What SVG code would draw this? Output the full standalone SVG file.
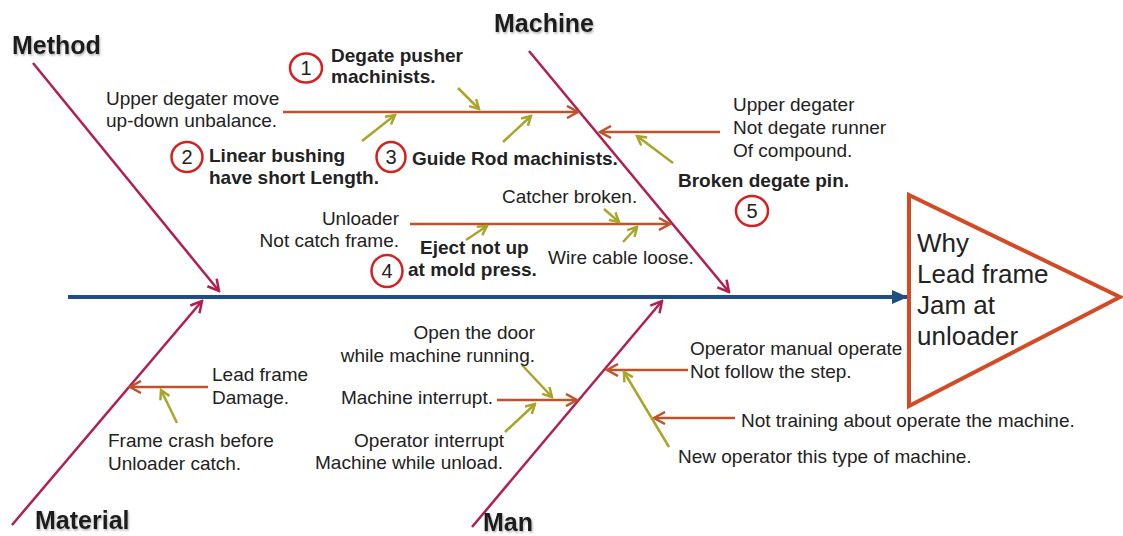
<svg xmlns="http://www.w3.org/2000/svg" width="1123" height="536" viewBox="0 0 1123 536">
<style>
text{font-family:"Liberation Sans",Arial,sans-serif;fill:#222}
.t{font-size:19px}
.b{font-size:19px;font-weight:bold}
.h{font-size:25px;font-weight:bold;fill:#1a1a1a;filter:url(#sh)}
.n{font-size:20px;text-anchor:middle}
.e{text-anchor:end}
.bone{stroke:#B01F4E;stroke-width:2.5;fill:none;marker-end:url(#mb)}
.br{stroke:#C0522B;stroke-width:2.5;fill:none;marker-end:url(#mr)}
.ol{stroke:#A9A52A;stroke-width:2.5;fill:none;marker-end:url(#mo)}
.c{fill:none;stroke:#D42020;stroke-width:2.5}
</style>
<defs>
<filter id="sh" x="-10%" y="-20%" width="130%" height="150%"><feDropShadow dx="1" dy="1.5" stdDeviation="0.8" flood-color="#777" flood-opacity="0.6"/></filter>
<marker id="mb" markerUnits="userSpaceOnUse" viewBox="0 0 14 14" refX="12" refY="7" markerWidth="14" markerHeight="14" orient="auto"><path d="M1,1 L12,7 L1,13" fill="none" stroke="#B01F4E" stroke-width="2.5"/></marker>
<marker id="mr" markerUnits="userSpaceOnUse" viewBox="0 0 14 14" refX="12" refY="7" markerWidth="14" markerHeight="14" orient="auto"><path d="M1,1 L12,7 L1,13" fill="none" stroke="#C0522B" stroke-width="2.5"/></marker>
<marker id="mo" markerUnits="userSpaceOnUse" viewBox="0 0 12 12" refX="10" refY="6" markerWidth="12" markerHeight="12" orient="auto"><path d="M1,1 L10,6 L1,11" fill="none" stroke="#A9A52A" stroke-width="2.5"/></marker>
<marker id="ms" markerUnits="userSpaceOnUse" viewBox="0 0 16 14" refX="15" refY="7" markerWidth="16" markerHeight="14" orient="auto"><path d="M0,0 L16,7 L0,14 Z" fill="#1F4E86"/></marker>
</defs>
<rect width="1123" height="536" fill="#fff"/>

<g id="connectors">
<line x1="68" y1="297" x2="907" y2="297" stroke="#1F4E86" stroke-width="4" marker-end="url(#ms)"/>
<line class="bone" x1="33" y1="63" x2="219" y2="291"/>
<line class="bone" x1="529" y1="51" x2="729" y2="292"/>
<line class="bone" x1="12" y1="525" x2="202" y2="301"/>
<line class="bone" x1="472" y1="527" x2="662" y2="301"/>
<line class="br" x1="283" y1="112" x2="578" y2="112"/>
<line class="br" x1="720" y1="132" x2="600" y2="132"/>
<line class="br" x1="410" y1="224" x2="670" y2="224"/>
<line class="br" x1="208" y1="387" x2="130" y2="387"/>
<line class="br" x1="497" y1="400" x2="577" y2="400"/>
<line class="br" x1="688" y1="370" x2="607" y2="370"/>
<line class="br" x1="735" y1="418" x2="654" y2="418"/>
<line class="ol" x1="458" y1="88" x2="479" y2="109"/>
<line class="ol" x1="362" y1="141" x2="395" y2="115"/>
<line class="ol" x1="503" y1="142" x2="531" y2="116"/>
<line class="ol" x1="673" y1="163" x2="637" y2="136"/>
<line class="ol" x1="604" y1="209" x2="619" y2="222"/>
<line class="ol" x1="623" y1="242" x2="637" y2="227"/>
<line class="ol" x1="466" y1="240" x2="487" y2="226"/>
<line class="ol" x1="177" y1="423" x2="161" y2="390"/>
<line class="ol" x1="522" y1="365" x2="552" y2="397"/>
<line class="ol" x1="505" y1="432" x2="535" y2="404"/>
<line class="ol" x1="669" y1="447" x2="624" y2="372"/>
</g>

<g id="method"><text class="h" x="12" y="54">Method</text></g>
<g id="machine"><text class="h" x="494" y="32">Machine</text></g>
<g id="material"><text class="h" x="35" y="529">Material</text></g>
<g id="man"><text class="h" x="483" y="531">Man</text></g>

<g id="effect">
<polygon points="909,195 1120,297 909,406" fill="#fff" stroke="#D44A24" stroke-width="4" stroke-linejoin="miter"/>
<text x="917" y="252" font-size="26">Why</text>
<text x="917" y="283" font-size="26">Lead frame</text>
<text x="917" y="314" font-size="26">Jam at</text>
<text x="917" y="345" font-size="26">unloader</text>
</g>

<g id="upper-degater-move"><text class="t" x="106" y="105">Upper degater move</text><text class="t" x="106" y="127">up-down unbalance.</text></g>
<g id="cause-1"><ellipse class="c" cx="306" cy="68" rx="16" ry="14.5"/><text class="n" x="306" y="75">1</text><text class="b" x="331" y="62">Degate pusher</text><text class="b" x="331" y="83">machinists.</text></g>
<g id="cause-2"><ellipse class="c" cx="187" cy="157" rx="15.5" ry="15"/><text class="n" x="187" y="164">2</text><text class="b" x="209" y="162">Linear bushing</text><text class="b" x="209" y="184">have short Length.</text></g>
<g id="cause-3"><ellipse class="c" cx="391" cy="157" rx="14.5" ry="15"/><text class="n" x="391" y="164">3</text><text class="b" x="412" y="165">Guide Rod machinists.</text></g>
<g id="upper-degater"><text class="t" x="733" y="111">Upper degater</text><text class="t" x="733" y="134">Not degate runner</text><text class="t" x="733" y="157">Of compound.</text></g>
<g id="cause-5"><text class="b" x="678" y="187">Broken degate pin.</text><ellipse class="c" cx="752" cy="211" rx="16" ry="15"/><text class="n" x="752" y="218">5</text></g>
<g id="catcher"><text class="t" x="502" y="203">Catcher broken.</text></g>
<g id="unloader"><text class="t e" x="399" y="225">Unloader</text><text class="t e" x="399" y="247">Not catch frame.</text></g>
<g id="cause-4"><text class="b" x="420" y="254">Eject not up</text><text class="b" x="408" y="276">at mold press.</text><ellipse class="c" cx="387" cy="271" rx="15.5" ry="16"/><text class="n" x="387" y="278">4</text></g>
<g id="wire"><text class="t" x="548" y="264">Wire cable loose.</text></g>
<g id="lead-frame-damage"><text class="t" x="212" y="381">Lead frame</text><text class="t" x="212" y="404">Damage.</text></g>
<g id="frame-crash"><text class="t" x="108" y="447">Frame crash before</text><text class="t" x="108" y="470">Unloader catch.</text></g>
<g id="open-door"><text class="t e" x="535" y="339">Open the door</text><text class="t e" x="535" y="362">while machine running.</text></g>
<g id="machine-interrupt"><text class="t e" x="493" y="404">Machine interrupt.</text></g>
<g id="operator-interrupt"><text class="t e" x="504" y="447">Operator interrupt</text><text class="t e" x="503" y="469">Machine while unload.</text></g>
<g id="manual-operate"><text class="t" x="690" y="355">Operator manual operate</text><text class="t" x="690" y="378">Not follow the step.</text></g>
<g id="not-training"><text class="t" x="741" y="427">Not training about operate the machine.</text></g>
<g id="new-operator"><text class="t" x="678" y="463">New operator this type of machine.</text></g>
</svg>
